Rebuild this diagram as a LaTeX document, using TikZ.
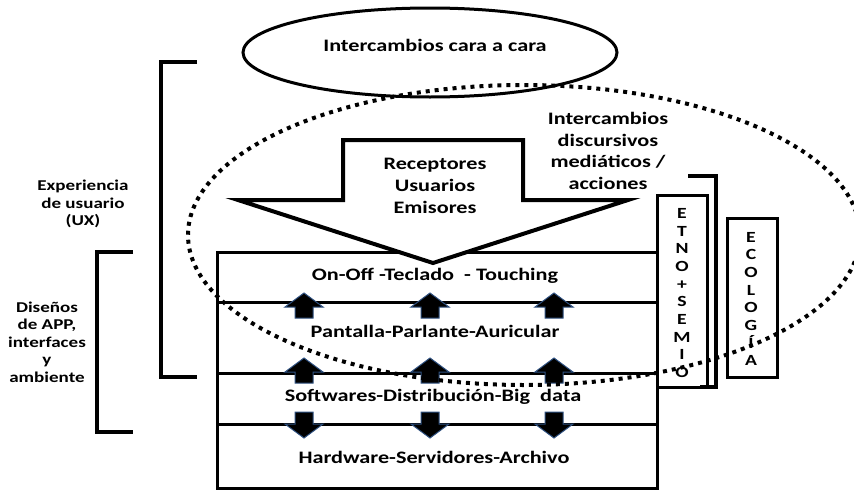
\documentclass[tikz,border=0pt]{standalone}
\usepackage{fontspec}
\setmainfont{Carlito}[FakeStretch=1.27]
\usetikzlibrary{shapes.geometric}
\definecolor{arrowedge}{HTML}{2E5080}
\tikzset{
  thick line/.style={line width=3pt},
  bracket/.style={line width=4pt, line join=miter},
  bigtext/.style={font=\fontsize{17.5}{21.7}\selectfont\bfseries, align=center, inner sep=0pt},
  sidetext/.style={font=\fontsize{15}{17.5}\selectfont\bfseries, align=center, inner sep=0pt},
  vertext/.style={font=\fontsize{15.5}{17.7}\selectfont\bfseries, align=center, inner sep=0pt},
  smallarrow/.style={fill=black, draw=arrowedge, line width=1pt, line join=miter},
}
\newcommand{\uparr}[3]{% x, tip y, name
  \path[smallarrow] (#1,#2) -- ++(19,14) -- ++(-10,0) -- ++(0,11) -- ++(-18,0) -- ++(0,-11) -- ++(-10,0) -- cycle;
  \coordinate (#3) at (#1,#2);}
\newcommand{\downarr}[3]{% x, top y, name
  \path[smallarrow] (#1,#2+26) -- ++(19,-14) -- ++(-10,0) -- ++(0,-12) -- ++(-18,0) -- ++(0,12) -- ++(-10,0) -- cycle;
  \coordinate (#3) at (#1,#2);}
\begin{document}
\begin{tikzpicture}[x=1pt,y=-1pt]
\useasboundingbox (0,0) rectangle (854,490);
% top ellipse
\node[draw, ellipse, line width=3pt, minimum width=374pt, minimum height=89pt, inner sep=0pt] (face) at (430,52.5) {};
\node[bigtext] (facetxt) at (435,45) {Intercambios cara a cara};
% main box
\draw[thick line] (217,252) rectangle (657,488);
\coordinate (r1l) at (217,302); \coordinate (r1r) at (657,302);
\coordinate (r2l) at (217,373); \coordinate (r2r) at (657,373);
\coordinate (r3l) at (217,424); \coordinate (r3r) at (657,424);
\draw[thick line] (r1l) -- (r1r);
\draw[thick line] (r2l) -- (r2r);
\draw[thick line] (r3l) -- (r3r);
\node[bigtext] (row1) at (435,276) {On-Off -Teclado~ - Touching};
\node[bigtext] (row2) at (435,331) {Pantalla-Parlante-Auricular};
\node[bigtext] (row3) at (433,397) {Softwares-Distribución-Big~ data};
\node[bigtext] (row4) at (434,457) {Hardware-Servidores-Archivo};
% small arrows
\uparr{304}{293}{ua1}\uparr{430}{293}{ua2}\uparr{554}{293}{ua3}
\uparr{304}{358}{ub1}\uparr{430}{358}{ub2}\uparr{554}{358}{ub3}
\downarr{304}{412}{da1}\downarr{430}{412}{da2}\downarr{554}{412}{da3}
% big arrow
\draw[line width=4pt, line join=miter, fill=white] (343,140) -- (523,140) -- (523,200) -- (628,200) -- (433,263) -- (238,200) -- (343,200) -- cycle;
\node[bigtext] (users) at (435,186) {Receptores\\Usuarios\\Emisores};
% ETNO box and bracket
\draw[thick line] (657,195) rectangle (707,387);
\node[vertext] (etno) at (682,293) {E\\T\\N\\O\\+\\S\\E\\M\\I\\O};
\draw[bracket] (688,176) -- (716,176) -- (716,387) -- (700,387);
% ECOLOGIA box
\draw[thick line] (727,218) rectangle (777,377);
\node[vertext] (eco) at (751,299) {E\\C\\O\\L\\O\\G\\Í\\A};
% text right
\node[bigtext] (disc) at (608,151) {Intercambios\\discursivos\\mediáticos /\\acciones};
% brackets left
\draw[bracket] (197,62) -- (161,62) -- (161,377) -- (197,377);
\draw[bracket] (133,252) -- (97,252) -- (97,432) -- (133,432);
\node[sidetext] (ux) at (83,204) {Experiencia\\de usuario\\(UX)};
\node[sidetext] (dis) at (47,342) {Diseños\\de APP,\\interfaces\\y\\ambiente};
% dotted ellipse
\draw[line width=4pt, dash pattern=on 4pt off 5pt] (524,235) ellipse [x radius=336, y radius=150];
\end{tikzpicture}
\end{document}
